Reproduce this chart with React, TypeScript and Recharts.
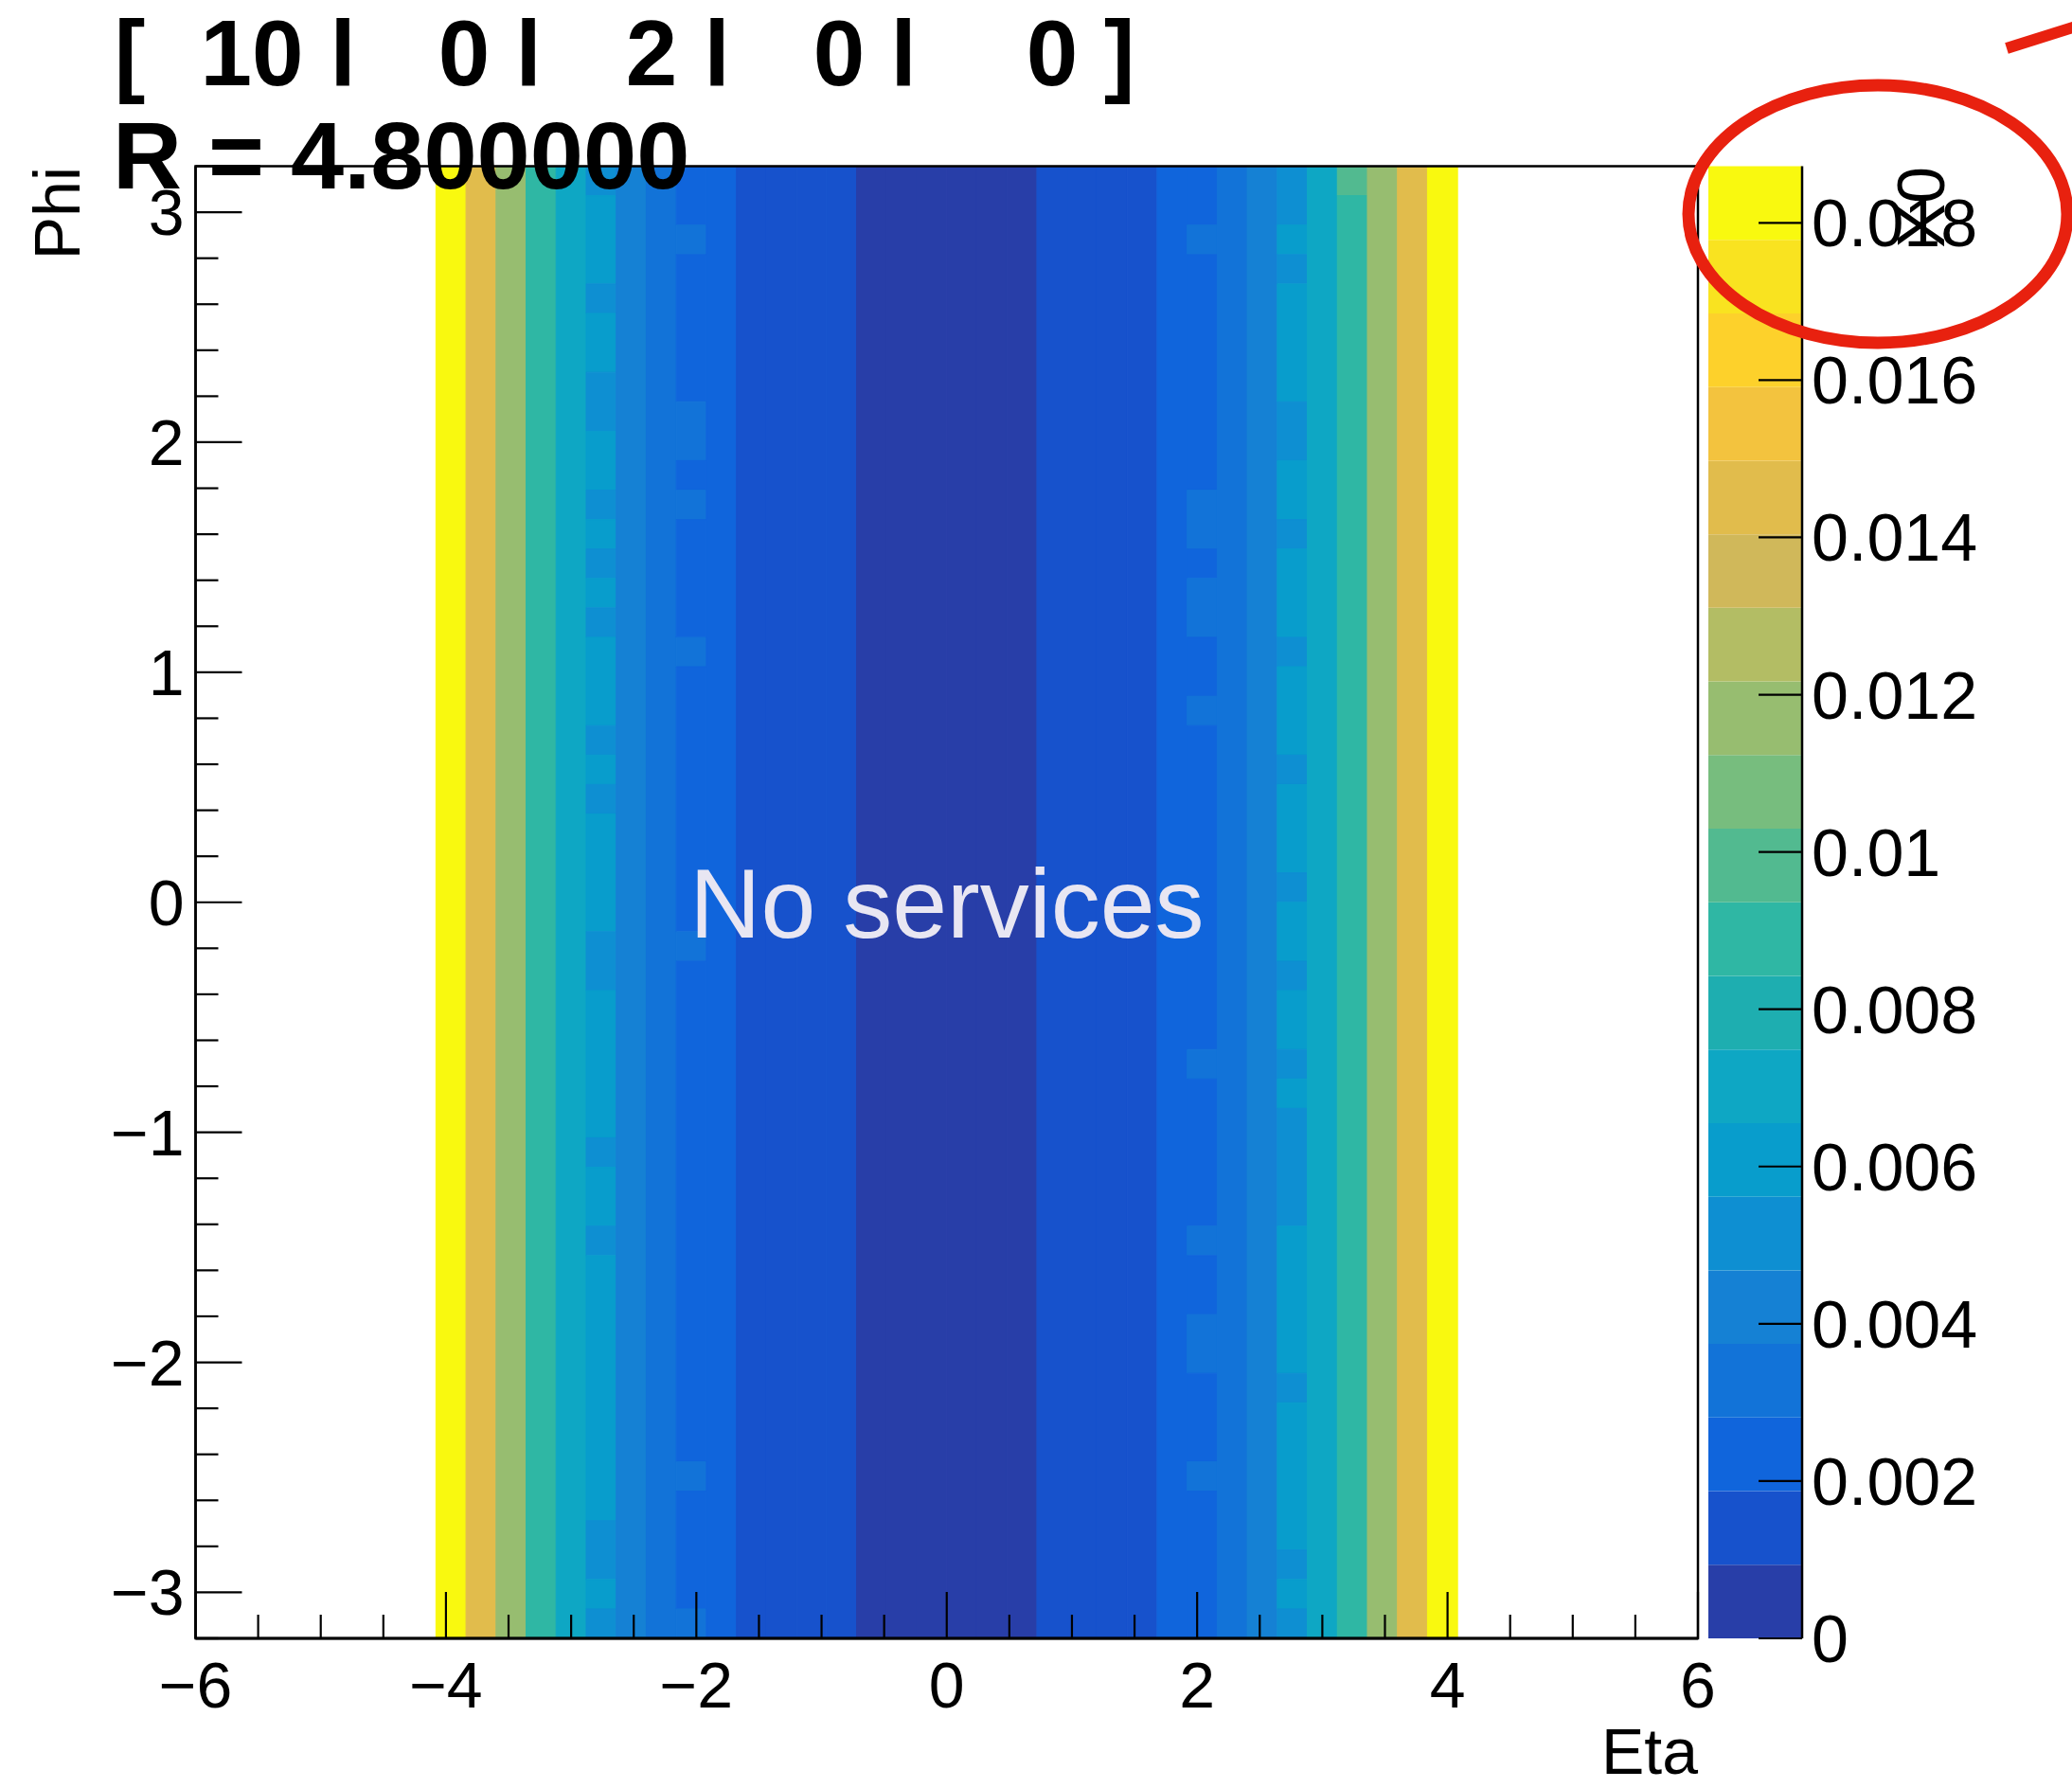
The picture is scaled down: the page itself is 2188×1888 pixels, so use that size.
import React from 'react';
import { ScatterChart, XAxis, YAxis, ReferenceArea } from 'recharts';

const W = 2188;
const H = 1888;
const FONT = '"Liberation Sans", Arial, Helvetica, sans-serif';

// histogram binning (50 x 50 bins)
const ETA_MIN = -6;
const ETA_MAX = 6;
const PHI_MIN = -3.2;
const PHI_MAX = 3.2;
const N_BINS = 50;
const ETA_W = (ETA_MAX - ETA_MIN) / N_BINS;
const PHI_H = (PHI_MAX - PHI_MIN) / N_BINS;
const Z_MAX = 0.01872;

// eta bins 8..41 hold data, value per column (same for every phi row unless listed below)
const firstEtaBin = 8;
const columnX0 = [
  0.0187, 0.0144, 0.0116, 0.0088, 0.0069, 0.006, 0.0041, 0.0032, 0.0023, 0.0023,
  0.0013, 0.0013, 0.0013, 0.0013,
  0.0005, 0.0005, 0.0005, 0.0005, 0.0005, 0.0005,
  0.0013, 0.0013, 0.0013, 0.0013,
  0.0023, 0.0023, 0.0032, 0.0041, 0.006, 0.0069, 0.0088, 0.0116, 0.0144, 0.0187,
];

// phi rows (0 = top row at phi 3.2) that differ from the column value
const bin13Rows = [0, 4, 7, 8, 11, 13, 15, 19, 21, 26, 27, 33, 36, 46, 47, 49];
const bin13Value = 0.0051;
const bin16Rows = [2, 8, 9, 11, 16, 26, 44, 49];
const bin16Value = 0.0032;
const bin33Rows = [2, 11, 12, 14, 15, 18, 30, 36, 39, 40, 44];
const bin33Value = 0.0032;
const bin36Rows = [0, 1, 3, 8, 9, 12, 16, 20, 24, 27, 30, 32, 33, 34, 35, 41, 47, 49];
const bin36Value = 0.0051;
const bin38Rows = [0];
const bin38Value = 0.0097;

const xTicks = [-6, -5.5, -5, -4.5, -4, -3.5, -3, -2.5, -2, -1.5, -1, -0.5, 0, 0.5, 1, 1.5, 2, 2.5, 3, 3.5, 4, 4.5, 5, 5.5, 6];
const yTicks = [
  -3.2, -3, -2.8, -2.6, -2.4, -2.2, -2, -1.8, -1.6, -1.4, -1.2, -1, -0.8, -0.6, -0.4, -0.2, 0,
  0.2, 0.4, 0.6, 0.8, 1, 1.2, 1.4, 1.6, 1.8, 2, 2.2, 2.4, 2.6, 2.8, 3, 3.2,
];
const zTicks = [0, 0.002, 0.004, 0.006, 0.008, 0.01, 0.012, 0.014, 0.016, 0.018];

// kBird-like palette, 20 contours
const palette = [
  '#283ea8', '#1752cc', '#1065dc', '#1273d8', '#1581d4', '#0e8fd2', '#089dcc', '#0ea7c4', '#1eaeb0', '#2fb7a4',
  '#52ba90', '#77bd7e', '#97bd70', '#b3bd64', '#d0b85a', '#e1bc4c', '#f3c33e', '#fdd12b', '#f9e320', '#f9f90f',
];

const exceptions = [
  { bin: 13, rows: bin13Rows, value: bin13Value },
  { bin: 16, rows: bin16Rows, value: bin16Value },
  { bin: 33, rows: bin33Rows, value: bin33Value },
  { bin: 36, rows: bin36Rows, value: bin36Value },
  { bin: 38, rows: bin38Rows, value: bin38Value },
];

const r6 = (v: number) => Math.round(v * 1e6) / 1e6;
const colorOf = (v: number) => palette[Math.min(19, Math.max(0, Math.floor((v / Z_MAX) * 20)))];

type Cell = { x1: number; x2: number; y1: number; y2: number; fill: string };

// merge consecutive equal rows of a column into one area
const cells: Cell[] = [];
columnX0.forEach((base, c) => {
  const bin = firstEtaBin + c;
  const ex = exceptions.find((e) => e.bin === bin);
  const vals = Array.from({ length: N_BINS }, (_, r) => (ex && ex.rows.includes(r) ? ex.value : base));
  let start = 0;
  for (let r = 1; r <= N_BINS; r++) {
    if (r === N_BINS || vals[r] !== vals[start]) {
      cells.push({
        x1: r6(ETA_MIN + bin * ETA_W),
        x2: r6(ETA_MIN + (bin + 1) * ETA_W),
        y1: r6(PHI_MAX - r * PHI_H),
        y2: r6(PHI_MAX - start * PHI_H),
        fill: colorOf(vals[start]),
      });
      start = r;
    }
  }
});

const fmtAxis = (v: number) => (v < 0 ? '\u2212' + Math.abs(v) : String(v));

const XTick = (props: any) => {
  const { x, y, payload } = props;
  const v = payload.value;
  const major = Math.abs(v / 2 - Math.round(v / 2)) < 1e-6;
  return (
    <g>
      <line x1={x} x2={x} y1={y} y2={y - (major ? 49 : 25)} stroke="#000" strokeWidth={2.2} />
      {major && (
        <text x={x} y={y + 73} textAnchor="middle" fontSize={68} fontFamily={FONT} fill="#000">
          {fmtAxis(v)}
        </text>
      )}
    </g>
  );
};

const YTick = (props: any) => {
  const { x, y, payload } = props;
  const v = payload.value;
  const major = Math.abs(v - Math.round(v)) < 1e-6 && Math.abs(v) < 3.1;
  return (
    <g>
      <line x1={x} x2={x + (major ? 49 : 24)} y1={y} y2={y} stroke="#000" strokeWidth={2.2} />
      {major && (
        <text x={x - 12} y={y + 24} textAnchor="end" fontSize={68} fontFamily={FONT} fill="#000">
          {fmtAxis(Math.round(v))}
        </text>
      )}
    </g>
  );
};

const ZTick = (props: any) => {
  const { x, y, payload } = props;
  return (
    <g>
      <line x1={x - 46} x2={x} y1={y} y2={y} stroke="#000" strokeWidth={2.2} />
      <text x={x + 10} y={y + 25} textAnchor="start" fontSize={70} fontFamily={FONT} fill="#000">
        {String(+payload.value.toFixed(3))}
      </text>
    </g>
  );
};

const layer: React.CSSProperties = { position: 'absolute', left: 0, top: 0, width: W, height: H };

export default function App() {
  return (
    <div style={{ position: 'absolute', left: 0, top: 0, width: W, height: H, background: '#fff', overflow: 'hidden' }}>
      {/* heatmap cells */}
      <div style={layer}>
        <ScatterChart width={W} height={H} margin={{ top: 175.5, right: 395, bottom: 158, left: 206.5 }}>
          <XAxis type="number" dataKey="eta" domain={[ETA_MIN, ETA_MAX]} allowDataOverflow hide />
          <YAxis type="number" dataKey="phi" domain={[PHI_MIN, PHI_MAX]} allowDataOverflow hide />
          {cells.map((c, i) => (
            <ReferenceArea
              key={i}
              x1={c.x1}
              x2={c.x2}
              y1={c.y1}
              y2={c.y2}
              fill={c.fill}
              fillOpacity={1}
              stroke={c.fill}
              strokeWidth={1}
              ifOverflow="visible"
            />
          ))}
        </ScatterChart>
      </div>

      {/* axes and frame on top of the cells */}
      <div style={layer}>
        <ScatterChart width={W} height={H} margin={{ top: 175.5, right: 395, bottom: 58, left: 56.5 }}>
          <XAxis
            type="number"
            dataKey="eta"
            domain={[ETA_MIN, ETA_MAX]}
            allowDataOverflow
            ticks={xTicks}
            interval={0}
            height={100}
            tickSize={0}
            tickMargin={0}
            tickLine={false}
            axisLine={{ stroke: '#000', strokeWidth: 3 }}
            tick={<XTick />}
          />
          <YAxis
            type="number"
            dataKey="phi"
            domain={[PHI_MIN, PHI_MAX]}
            allowDataOverflow
            ticks={yTicks}
            interval={0}
            width={150}
            tickSize={0}
            tickMargin={0}
            tickLine={false}
            axisLine={{ stroke: '#000', strokeWidth: 2.5 }}
            tick={<YTick />}
          />
          <ReferenceArea
            x1={ETA_MIN}
            x2={ETA_MAX}
            y1={PHI_MIN}
            y2={PHI_MAX}
            fill="none"
            fillOpacity={0}
            stroke="#000"
            strokeWidth={2.5}
            ifOverflow="visible"
          />
        </ScatterChart>
      </div>

      {/* colour scale */}
      <div style={layer}>
        <ScatterChart width={W} height={H} margin={{ top: 175.5, right: 85, bottom: 158, left: 1804 }}>
          <XAxis type="number" dataKey="u" domain={[0, 1]} allowDataOverflow hide />
          <YAxis
            type="number"
            dataKey="z"
            orientation="right"
            domain={[0, Z_MAX]}
            allowDataOverflow
            ticks={zTicks}
            interval={0}
            width={200}
            tickSize={0}
            tickMargin={0}
            tickLine={false}
            axisLine={{ stroke: '#000', strokeWidth: 2.5 }}
            tick={<ZTick />}
          />
          {palette.map((col, k) => (
            <ReferenceArea
              key={k}
              x1={0}
              x2={1}
              y1={r6((k * Z_MAX) / 20)}
              y2={r6(((k + 1) * Z_MAX) / 20)}
              fill={col}
              fillOpacity={1}
              stroke="none"
              ifOverflow="visible"
            />
          ))}
        </ScatterChart>
      </div>

      {/* titles and annotations */}
      <svg style={{ ...layer, pointerEvents: 'none' }} width={W} height={H}>
        <g fontFamily={FONT} fontWeight="bold" fontSize={98} fill="#000" textAnchor="middle">
          <text x={137} y={90}>[</text>
          <text x={266} y={90}>10</text>
          <text x={362} y={90}>l</text>
          <text x={490} y={90}>0</text>
          <text x={558} y={90}>l</text>
          <text x={688} y={90}>2</text>
          <text x={757} y={90}>l</text>
          <text x={886} y={90}>0</text>
          <text x={954} y={90}>l</text>
          <text x={1111} y={90}>0</text>
          <text x={1182} y={90}>]</text>
        </g>
        <text x={119} y={199} fontFamily={FONT} fontWeight="bold" fontSize={101} fill="#000">
          R = 4.800000
        </text>
        <text x={1000} y={990} textAnchor="middle" fontFamily={FONT} fontSize={104} fill="#e8e6f2">
          No services
        </text>
        <text x={1793} y={1873} textAnchor="end" fontFamily={FONT} fontSize={68} fill="#000">
          Eta
        </text>
        <text x={84} y={176} textAnchor="end" fontFamily={FONT} fontSize={68} fill="#000" transform="rotate(-90 84 176)">
          Phi
        </text>
        <text x={2053} y={176} textAnchor="end" fontFamily={FONT} fontSize={70} fill="#000" transform="rotate(-90 2053 176)">
          X0
        </text>
        <ellipse cx={1983} cy={226} rx={200} ry={136} fill="none" stroke="#e8210f" strokeWidth={13} />
        <line x1={2119} y1={51} x2={2195} y2={27} stroke="#e8210f" strokeWidth={12} />
      </svg>
    </div>
  );
}
